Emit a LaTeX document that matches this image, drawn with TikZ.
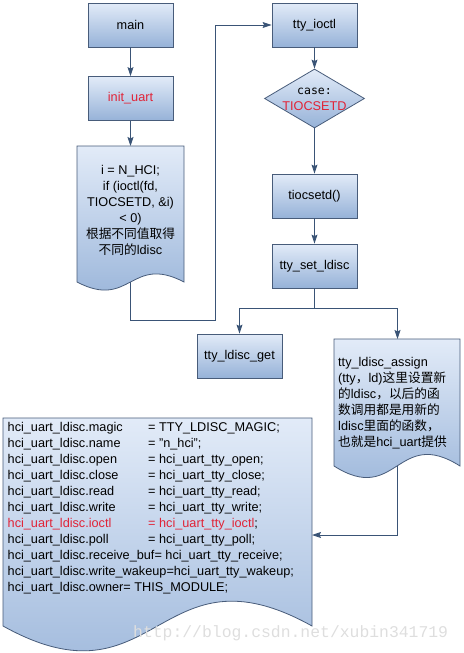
\documentclass[tikz,border=0pt]{standalone}
\usepackage{fontspec}
\setmainfont{Liberation Sans}
\newfontfamily\cjk{Noto Sans CJK SC}
\newfontfamily\monofont{DejaVu Sans Mono}
\newfontfamily\wmfont{Liberation Mono}
\usetikzlibrary{arrows.meta,shapes.geometric}
\definecolor{boxtop}{RGB}{226,235,248}
\definecolor{boxbot}{RGB}{150,178,216}
\definecolor{edge}{RGB}{72,92,122}
\definecolor{linec}{RGB}{58,84,118}
\definecolor{redtxt}{RGB}{225,35,55}
\definecolor{wmark}{RGB}{222,222,222}
\begin{document}
\begin{tikzpicture}[x=1pt,y=-1pt,
  every node/.style={font=\fontsize{12.7}{16}\selectfont},
  box/.style={draw=edge, line width=0.8pt, top color=boxtop, bottom color=boxbot,
    minimum width=85pt, minimum height=44pt, inner sep=0pt},
  diamondbox/.style={diamond, draw=edge, line width=0.8pt, top color=boxtop, bottom color=boxbot,
    minimum width=100pt, minimum height=59pt, inner sep=0pt, aspect=1.695},
  docshape/.style={draw=edge, line width=0.8pt, top color=boxtop, bottom color=boxbot},
  conn/.style={draw=linec, line width=0.9pt, -{Stealth[length=9pt,width=6pt,inset=1.5pt]}},
  plainconn/.style={draw=linec, line width=0.9pt},
]
\useasboundingbox (0,0) rectangle (463,653);

% left column
\node[box] (main) at (130.5,25) {main};
\node[box] (init) at (130.5,98.5) {\textcolor{redtxt}{init\_uart}};
\path[docshape] (77,146) -- (184,146) -- (184,282) .. controls (130.5,254) and (130.5,310) .. (77,282) -- cycle;
\coordinate (d1top) at (130.5,146);
\coordinate (d1bot) at (130.5,282);
\node[align=center, inner sep=0pt] (d1text) at (130.5,210)
  {i = N\_HCI;\\ if (ioctl(fd,\\ TIOCSETD, \&i)\\ < 0)\\ {\cjk 根据不同值取得}\\ {\cjk 不同的}ldisc};

% right column
\node[box] (ioctl) at (314.5,25) {tty\_ioctl};
\node[diamondbox] (case) at (314.5,98.5) {};
\node[inner sep=0pt, align=center] (casetext) at (314.5,99)
  {{\monofont\fontsize{11.5}{16}\selectfont case:}\\ \textcolor{redtxt}{TIOCSETD}};
\node[box] (tiocsetd) at (314.5,196) {tiocsetd()};
\node[box] (setldisc) at (314.5,266) {tty\_set\_ldisc};
\node[box] (get) at (239.5,356) {tty\_ldisc\_get};

\path[docshape] (334,339) -- (460,339) -- (460,466) .. controls (397,426) and (397,506) .. (334,466) -- cycle;
\coordinate (d2top) at (397.5,339);
\coordinate (d2bot) at (397.5,466);
\node[align=left, anchor=west, inner sep=0pt] (d2text) at (338,403)
  {tty\_ldisc\_assign\\ (tty{\cjk ，}ld){\cjk 这里设置新}\\ {\cjk 的}ldisc{\cjk ，以后的函}\\
   {\cjk 数调用都是用新的}\\ ldisc{\cjk 里面的函数，}\\ {\cjk 也就是}hci\_uart{\cjk 提供}};

% bottom document
\path[docshape] (3,418) -- (312,418) -- (312,626) .. controls (157.5,540) and (157.5,712) .. (3,626) -- cycle;
\coordinate (d3right) at (312,535);
\node[align=left, anchor=north west, inner sep=0pt] (d3text) at (7.5,422.5)
  {\makebox[140.5pt][l]{hci\_uart\_ldisc.magic}= TTY\_LDISC\_MAGIC;\\
   \makebox[140.5pt][l]{hci\_uart\_ldisc.name}= "n\_hci";\\
   \makebox[140.5pt][l]{hci\_uart\_ldisc.open}= hci\_uart\_tty\_open;\\
   \makebox[140.5pt][l]{hci\_uart\_ldisc.close}= hci\_uart\_tty\_close;\\
   \makebox[140.5pt][l]{hci\_uart\_ldisc.read}= hci\_uart\_tty\_read;\\
   \makebox[140.5pt][l]{hci\_uart\_ldisc.write}= hci\_uart\_tty\_write;\\
   \textcolor{redtxt}{\makebox[140.5pt][l]{hci\_uart\_ldisc.ioctl}= hci\_uart\_tty\_ioctl};\\
   \makebox[140.5pt][l]{hci\_uart\_ldisc.poll}= hci\_uart\_tty\_poll;\\
   hci\_uart\_ldisc.receive\_buf= hci\_uart\_tty\_receive;\\
   hci\_uart\_ldisc.write\_wakeup=hci\_uart\_tty\_wakeup;\\
   hci\_uart\_ldisc.owner= THIS\_MODULE;};

% connectors
\coordinate (turn1) at (215,320);
\coordinate (split) at (314.5,308);
\draw[conn] (main) -- (init);
\draw[conn] (init) -- (d1top);
\draw[conn] (d1bot) |- (turn1) |- (ioctl.west);
\draw[conn] (ioctl) -- (case);
\draw[conn] (case) -- (tiocsetd);
\draw[conn] (tiocsetd) -- (setldisc);
\draw[plainconn] (setldisc.south) -- (split);
\draw[conn] (split) -| (get.north);
\draw[conn] (split) -| (d2top);
\draw[conn] (d2bot) |- (d3right);

% watermark
\node[font=\wmfont\fontsize{16.4}{16}\selectfont, text=wmark, anchor=base west, inner sep=0pt] (wm)
  at (133,637) {http://blog.csdn.net/xubin341719};
\end{tikzpicture}
\end{document}
